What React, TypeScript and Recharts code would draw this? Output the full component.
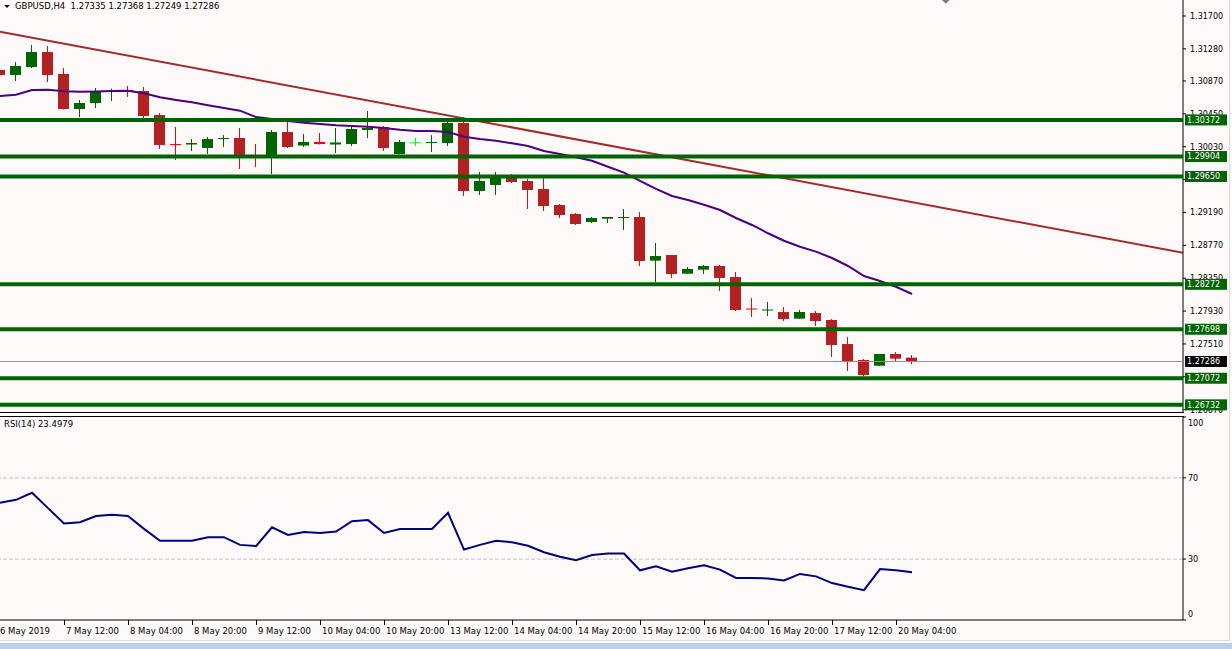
import React from "react";
import {
    ComposedChart,
    LineChart,
    Bar,
    Line,
    XAxis,
    YAxis,
    ReferenceLine,
} from "recharts";

// GBPUSD H4 candles, 6 May 20:00 .. 20 May 08:00
const OPEN = [
    1.3101, 1.30946, 1.31048, 1.3124, 1.30959, 1.30512, 1.30588, 1.30729, 1.30754, 1.30741,
    1.30435, 1.30064, 1.30058, 1.30013, 1.30128, 1.30141, 1.29924, 1.29924, 1.30218, 1.30045,
    1.3009, 1.30058, 1.30064, 1.30243, 1.30282, 1.29937, 1.30086, 1.30084, 1.30077, 1.30333,
    1.29464, 1.29541, 1.29668, 1.29592, 1.2949, 1.29285, 1.2917, 1.29068, 1.2911, 1.29125,
    1.29132, 1.28574, 1.28646, 1.28408, 1.28459, 1.28506, 1.28365, 1.27963, 1.27937, 1.27918,
    1.27833, 1.27905, 1.27816, 1.27509, 1.27305, 1.27232, 1.27382, 1.27335,
];
const HIGH = [
    1.31061, 1.31112, 1.31329, 1.31316, 1.31035, 1.30627, 1.3078, 1.30773, 1.30805, 1.30793,
    1.3046, 1.30282, 1.30128, 1.30154, 1.30179, 1.30269, 1.30064, 1.30243, 1.30371, 1.30192,
    1.30205, 1.30269, 1.30294, 1.30486, 1.30294, 1.30116, 1.30141, 1.30179, 1.30365, 1.30409,
    1.29707, 1.29707, 1.29681, 1.29617, 1.2963, 1.29298, 1.29183, 1.29132, 1.29132, 1.29234,
    1.29196, 1.288, 1.28646, 1.28493, 1.28519, 1.28519, 1.28429, 1.28097, 1.28046, 1.27982,
    1.27944, 1.27931, 1.27829, 1.27599, 1.27318, 1.27382, 1.27407, 1.27368,
];
const LOW = [
    1.30933, 1.30869, 1.31035, 1.30856, 1.30505, 1.30409, 1.30524, 1.30614, 1.30665, 1.30358,
    1.30001, 1.2986, 1.29975, 1.29937, 1.30026, 1.29745, 1.29771, 1.29681, 1.30013, 1.30026,
    1.30058, 1.29949, 1.30039, 1.30141, 1.29975, 1.2993, 1.30039, 1.29962, 1.30039, 1.294,
    1.29413, 1.29413, 1.29566, 1.29234, 1.29208, 1.29119, 1.2903, 1.29056, 1.29056, 1.28966,
    1.28506, 1.28301, 1.28353, 1.28404, 1.28404, 1.28186, 1.27931, 1.27854, 1.27867, 1.27803,
    1.27829, 1.27739, 1.27343, 1.27164, 1.27101, 1.27228, 1.27279, 1.27249,
];
const CLOSE = [
    1.30946, 1.31061, 1.3124, 1.30946, 1.30512, 1.30588, 1.30741, 1.30748, 1.30735, 1.30422,
    1.30052, 1.30052, 1.30077, 1.30128, 1.30141, 1.29911, 1.29905, 1.30218, 1.30026, 1.3009,
    1.30064, 1.30084, 1.30256, 1.30269, 1.30013, 1.3009, 1.30086, 1.3009, 1.30333, 1.29464,
    1.29592, 1.29643, 1.29579, 1.29477, 1.29272, 1.29157, 1.29042, 1.29119, 1.29132, 1.29132,
    1.2857, 1.28634, 1.28404, 1.28468, 1.28506, 1.28353, 1.27944, 1.2795, 1.2795, 1.27829,
    1.27918, 1.27803, 1.27497, 1.27279, 1.27113, 1.27382, 1.27322, 1.27286,
];
// moving average (purple line)
const MA = [
    1.30678, 1.30694, 1.30754, 1.30758, 1.30738, 1.30733, 1.30735, 1.30741, 1.30745, 1.30712,
    1.30661, 1.30627, 1.30597, 1.30559, 1.30524, 1.3049, 1.30409, 1.30384, 1.30358, 1.30337,
    1.3032, 1.30303, 1.30294, 1.30285, 1.30269, 1.30247, 1.3023, 1.3023, 1.30218, 1.30158,
    1.30128, 1.30107, 1.30073, 1.30039, 1.29975, 1.29937, 1.29894, 1.29851, 1.29774, 1.29698,
    1.29592, 1.2949, 1.294, 1.29349, 1.29289, 1.29221, 1.29119, 1.2903, 1.28924, 1.28829,
    1.28752, 1.28689, 1.28608, 1.28506, 1.28378, 1.28314, 1.28241, 1.28148,
];
const RSI = [
    57.8, 59.2, 62.7, 55.1, 47.5, 48.2, 51.2, 51.8, 51.2, 44.9,
    39.0, 39.0, 39.0, 40.8, 40.8, 37.0, 36.4, 45.7, 41.9, 43.3,
    42.9, 43.6, 48.7, 49.2, 42.9, 44.8, 44.8, 44.8, 52.8, 34.7,
    37.0, 39.0, 38.3, 36.6, 33.4, 31.2, 29.4, 32.0, 32.7, 32.7,
    24.5, 26.5, 23.8, 25.5, 27.0, 24.8, 20.7, 20.7, 20.5, 19.5,
    22.7, 21.5, 18.2, 16.4, 14.7, 25.1, 24.5, 23.5,
];
const LEVELS = [1.30372, 1.29904, 1.2965, 1.28272, 1.27698, 1.27072, 1.26732];
const BID = 1.27286;
const TREND_X = [0, 74];
const TREND_Y = [1.31499, 1.28673];
const PRICE_TICKS = [
    1.317, 1.3128, 1.3087, 1.3045, 1.3003, 1.2961, 1.2919, 1.2877, 1.2835, 1.2793, 1.2751,
    1.2709, 1.2667,
];
const RSI_TICKS = [0, 30, 70, 100];
const TIME_TICKS = [0, 4, 8, 12, 16, 20, 24, 28, 32, 36, 40, 44, 48, 52, 56];
const TIME_LABELS = [
    "6 May 2019", "7 May 12:00", "8 May 04:00", "8 May 20:00", "9 May 12:00",
    "10 May 04:00", "10 May 20:00", "13 May 12:00", "14 May 04:00", "14 May 20:00",
    "15 May 12:00", "16 May 04:00", "16 May 20:00", "17 May 12:00", "20 May 04:00",
];

const candles = OPEN.map((o, i) => ({
    i,
    o,
    h: HIGH[i],
    l: LOW[i],
    c: CLOSE[i],
    ma: MA[i],
    rsi: RSI[i],
}));
const trend = TREND_X.map((i, n) => ({ i, v: TREND_Y[n] }));

const FONT = "'DejaVu Sans', sans-serif";
const PLOT_W = 1183;
const X_MAX = PLOT_W / 16;
const PRICE_DOMAIN = [1.26628, 1.31904];

function Candle(props: any) {
    const { x, y, width, height, payload } = props;
    if (x == null || !payload) return null;
    const { o, h, l, c } = payload;
    const k = height / (h - l);
    const py = (v: number) => y + (h - v) * k;
    const mid = Math.floor(x + width / 2);
    const doji = o === c;
    const up = c > o;
    const wick = doji ? "#00ff00" : up ? "#006400" : "#ff0000";
    const top = Math.min(py(o), py(c));
    const bh = Math.max(1, Math.abs(py(o) - py(c)));
    const body = doji || bh < 2.5 ? wick : up ? "#006400" : "#b22222";
    return (
        <g>
            <line x1={mid + 0.5} x2={mid + 0.5} y1={y} y2={y + height} stroke={wick} strokeWidth={1} />
            <rect x={mid - 5} y={top} width={11} height={bh} fill={body} />
        </g>
    );
}

function PriceTag({ viewBox, text, fill }: any) {
    if (!viewBox) return null;
    const x0 = viewBox.x + viewBox.width + 2;
    const y0 = viewBox.y;
    return (
        <g>
            <rect x={x0} y={y0 - 5.5} width={42} height={11} fill={fill} />
            <text x={x0 + 2} y={y0} dy="0.35em" fontSize={8} fontFamily={FONT} fill="#fff">
                {text}
            </text>
        </g>
    );
}

function RsiTick(props: any) {
    const { x, y, payload } = props;
    const v = payload.value;
    const shift = v === 100 ? 6 : v === 0 ? -6 : 0;
    return (
        <text x={x} y={y + shift} dy="0.35em" textAnchor="start" fontSize={8} fontFamily={FONT} fill="#000">
            {v}
        </text>
    );
}

function TimeTick(props: any) {
    const { x, y, payload } = props;
    const idx = TIME_TICKS.indexOf(payload.value);
    const first = idx === 0;
    return (
        <g>
            {!first && <line x1={x + 0.5} x2={x + 0.5} y1={y} y2={y + 5} stroke="#000" />}
            <text x={first ? 0 : x + 2} y={y + 14} fontSize={8.5} fontFamily={FONT} fill="#000">
                {TIME_LABELS[idx]}
            </text>
        </g>
    );
}

const hline = (top: number, left: number, width: number, color: string) => (
    <div style={{ position: "absolute", top, left, width, height: 1, background: color }} />
);

export default function App() {
    return (
        <div
            style={{
                position: "absolute",
                left: 0,
                top: 0,
                width: 1232,
                height: 649,
                background: "#fffafa",
                overflow: "hidden",
                fontFamily: FONT,
            }}
        >
            {/* price panel: candles, MA, trend line, axis */}
            <div style={{ position: "absolute", top: 0, left: 0 }}>
                <ComposedChart width={1232} height={413} data={candles} margin={{ top: 0, right: 0, bottom: 0, left: 0 }}>
                    <XAxis
                        dataKey="i"
                        type="number"
                        domain={[0, X_MAX]}
                        allowDataOverflow
                        hide
                        ticks={candles.map((d) => d.i)}
                    />
                    <YAxis
                        orientation="right"
                        width={49}
                        domain={PRICE_DOMAIN}
                        allowDataOverflow
                        ticks={PRICE_TICKS}
                        interval={0}
                        tickFormatter={(v) => Number(v).toFixed(5)}
                        tick={{ fontSize: 8, fill: "#000", fontFamily: FONT }}
                        tickSize={3}
                        tickMargin={4}
                        axisLine={{ stroke: "#000" }}
                        tickLine={{ stroke: "#000" }}
                    />
                    <Bar
                        dataKey={(d: any) => [d.l, d.h]}
                        barSize={11}
                        shape={Candle}
                        isAnimationActive={false}
                    />
                    <Line
                        dataKey="ma"
                        type="linear"
                        stroke="#4b0082"
                        strokeWidth={2}
                        dot={false}
                        isAnimationActive={false}
                    />
                    <Line
                        data={trend}
                        dataKey="v"
                        type="linear"
                        stroke="#a52a2a"
                        strokeWidth={2}
                        dot={false}
                        isAnimationActive={false}
                    />
                </ComposedChart>
            </div>

            {/* horizontal levels and price tags, drawn on top of the axis */}
            <div style={{ position: "absolute", top: 0, left: 0 }}>
                <ComposedChart width={1232} height={413} data={candles} margin={{ top: 0, right: 0, bottom: 0, left: 0 }}>
                    <XAxis dataKey="i" type="number" domain={[0, X_MAX]} allowDataOverflow hide />
                    <YAxis
                        orientation="right"
                        width={49}
                        domain={PRICE_DOMAIN}
                        allowDataOverflow
                        tick={false}
                        axisLine={false}
                        tickLine={false}
                    />
                    <ReferenceLine
                        y={BID}
                        stroke="#8a90a0"
                        strokeWidth={1}
                        label={(p: any) => <PriceTag viewBox={p.viewBox} text={BID.toFixed(5)} fill="#000" />}
                    />
                    {LEVELS.map((v) => (
                        <ReferenceLine
                            key={v}
                            y={v}
                            stroke="#006400"
                            strokeWidth={4}
                            label={(p: any) => <PriceTag viewBox={p.viewBox} text={v.toFixed(5)} fill="#006400" />}
                        />
                    ))}
                </ComposedChart>
            </div>

            {/* RSI panel */}
            <div style={{ position: "absolute", top: 413, left: 0 }}>
                <LineChart width={1232} height={236} data={candles} margin={{ top: 4, right: 0, bottom: 0, left: 0 }}>
                    <XAxis
                        dataKey="i"
                        type="number"
                        domain={[0, X_MAX]}
                        allowDataOverflow
                        ticks={TIME_TICKS}
                        interval={0}
                        height={29}
                        tick={<TimeTick />}
                        tickLine={false}
                        tickSize={0}
                        tickMargin={0}
                        axisLine={{ stroke: "#000" }}
                    />
                    <YAxis
                        orientation="right"
                        width={49}
                        domain={[0, 100]}
                        ticks={RSI_TICKS}
                        interval={0}
                        tick={<RsiTick />}
                        tickSize={3}
                        tickMargin={2}
                        axisLine={{ stroke: "#000" }}
                        tickLine={{ stroke: "#000" }}
                    />
                    <ReferenceLine y={70} stroke="#c0c0c0" strokeDasharray="4 2" />
                    <ReferenceLine y={30} stroke="#c0c0c0" strokeDasharray="4 2" />
                    <Line
                        dataKey="rsi"
                        type="linear"
                        stroke="#000080"
                        strokeWidth={2}
                        dot={false}
                        isAnimationActive={false}
                    />
                </LineChart>
            </div>

            {hline(412, 0, 1184, "#000")}
            {hline(416, 0, 1184, "#000")}
            {hline(640, 0, 1230, "#dcdcdc")}
            <div style={{ position: "absolute", top: 0, left: 1229, width: 1, height: 641, background: "#dcdcdc" }} />
            <div style={{ position: "absolute", top: 643, left: 0, width: 1232, height: 6, background: "#b9d1ea" }} />

            <svg style={{ position: "absolute", top: 0, left: 0 }} width={1232} height={12}>
                <polygon points="4,5 10,5 7,8" fill="#000" />
                <polygon points="942,0 949.5,0 945.75,3.75" fill="#708090" />
            </svg>
            <div
                style={{
                    position: "absolute",
                    top: 1,
                    left: 15,
                    fontSize: 8.5,
                    lineHeight: "10px",
                    whiteSpace: "pre",
                    color: "#000",
                }}
            >
                {"GBPUSD,H4  1.27335 1.27368 1.27249 1.27286"}
            </div>
            <div
                style={{
                    position: "absolute",
                    top: 419,
                    left: 4,
                    fontSize: 8.5,
                    lineHeight: "10px",
                    whiteSpace: "pre",
                    color: "#000",
                }}
            >
                {"RSI(14) 23.4979"}
            </div>
        </div>
    );
}
